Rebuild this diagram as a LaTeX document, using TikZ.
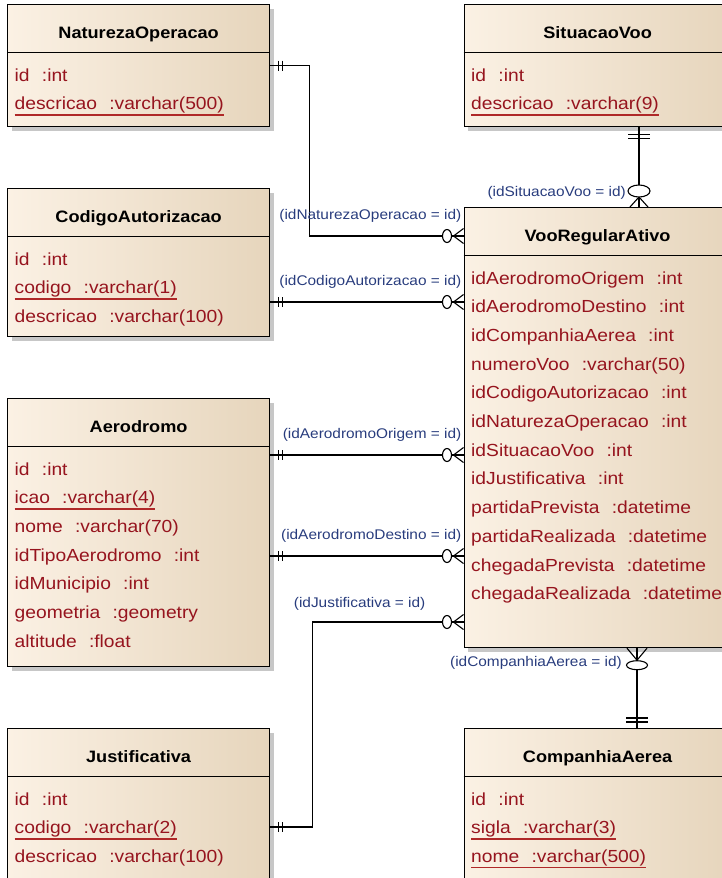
\documentclass[tikz,border=0pt]{standalone}
\usepackage{fontspec}
\setmainfont{Liberation Sans}[FakeStretch=1.1]
\usetikzlibrary{positioning, calc, shadows}
\usepackage{xcolor}
\definecolor{attrred}{RGB}{150,20,30}
\definecolor{ulred}{RGB}{175,40,40}
\definecolor{labblue}{RGB}{40,60,125}
\definecolor{boxleft}{RGB}{251,241,228}
\definecolor{boxright}{RGB}{230,213,188}
\newcommand{\tsep}{\hspace{0.7em}}
\newcommand{\pk}[1]{\setbox0\hbox{#1}\rlap{\color{ulred}\rule[-6pt]{\wd0}{1.3pt}}\box0}

\begin{document}
\begin{tikzpicture}[x=1pt, y=-1pt,
    tbl/.style={draw=black, line width=1.2pt, left color=boxleft, right color=boxright,
      drop shadow={shadow xshift=4pt, shadow yshift=-4pt, fill=black!22, opacity=1},
      anchor=north west, minimum width=262, inner sep=0},
    ttl/.style={font=\fontsize{16.5}{18}\selectfont\bfseries, anchor=base, inner sep=0},
    attr/.style={font=\fontsize{17.5}{20}\selectfont, text=attrred, anchor=base west, inner sep=0},
    rlab/.style={font=\fontsize{14}{16}\selectfont, text=labblue, inner sep=0},
    rel/.style={line width=1.1pt}]
    \useasboundingbox (0,0) rectangle (722,878);
    \clip (0,0) rectangle (722,878);
    % Tabelas da esquerda
    \node[tbl, minimum height=122] (nat) at (7,4) {};
    \node[ttl] (natT) at ($(nat.north)+(0,34.5)$) {NaturezaOperacao};
    \draw[line width=1pt] ($(nat.north west)+(0,48.5)$) -- ($(nat.north east)+(0,48.5)$);
    \foreach \a [count=\i] in {id\tsep:int, \pk{descricao\tsep:varchar(500)}}
      \node[attr] (natA\i) at ($(nat.north west)+(7.5,48.5+28.5+28.7*\i-28.7)$) {\a};

    \node[tbl, minimum height=148] (cod) at (7,188) {};
    \node[ttl] (codT) at ($(cod.north)+(0,34.5)$) {CodigoAutorizacao};
    \draw[line width=1pt] ($(cod.north west)+(0,48.5)$) -- ($(cod.north east)+(0,48.5)$);
    \foreach \a [count=\i] in {id\tsep:int, \pk{codigo\tsep:varchar(1)}, descricao\tsep:varchar(100)}
      \node[attr] (codA\i) at ($(cod.north west)+(7.5,48.5+28.5+28.7*\i-28.7)$) {\a};

    \node[tbl, minimum height=268] (aer) at (7,398) {};
    \node[ttl] (aerT) at ($(aer.north)+(0,34.5)$) {Aerodromo};
    \draw[line width=1pt] ($(aer.north west)+(0,48.5)$) -- ($(aer.north east)+(0,48.5)$);
    \foreach \a [count=\i] in {id\tsep:int, \pk{icao\tsep:varchar(4)}, nome\tsep:varchar(70),
        idTipoAerodromo\tsep:int, idMunicipio\tsep:int, geometria\tsep:geometry, altitude\tsep:float}
      \node[attr] (aerA\i) at ($(aer.north west)+(7.5,48.5+28.5+28.7*\i-28.7)$) {\a};

    \node[tbl, minimum height=152] (jus) at (7,728) {};
    \node[ttl] (jusT) at ($(jus.north)+(0,34.5)$) {Justificativa};
    \draw[line width=1pt] ($(jus.north west)+(0,48.5)$) -- ($(jus.north east)+(0,48.5)$);
    \foreach \a [count=\i] in {id\tsep:int, \pk{codigo\tsep:varchar(2)}, descricao\tsep:varchar(100)}
      \node[attr] (jusA\i) at ($(jus.north west)+(7.5,48.5+28.5+28.7*\i-28.7)$) {\a};

    % Tabelas da direita
    \node[tbl, minimum width=267, minimum height=122] (sit) at (463.5,4) {};
    \node[ttl] (sitT) at ($(sit.north)+(0,34.5)$) {SituacaoVoo};
    \draw[line width=1pt] ($(sit.north west)+(0,48.5)$) -- ($(sit.north east)+(0,48.5)$);
    \foreach \a [count=\i] in {id\tsep:int, \pk{descricao\tsep:varchar(9)}}
      \node[attr] (sitA\i) at ($(sit.north west)+(7.5,48.5+28.5+28.7*\i-28.7)$) {\a};

    \node[tbl, minimum width=267, minimum height=440] (voo) at (463.5,207) {};
    \node[ttl] (vooT) at ($(voo.north)+(0,34.5)$) {VooRegularAtivo};
    \draw[line width=1pt] ($(voo.north west)+(0,48.5)$) -- ($(voo.north east)+(0,48.5)$);
    \foreach \a [count=\i] in {idAerodromoOrigem\tsep:int, idAerodromoDestino\tsep:int,
        idCompanhiaAerea\tsep:int, numeroVoo\tsep:varchar(50), idCodigoAutorizacao\tsep:int,
        idNaturezaOperacao\tsep:int, idSituacaoVoo\tsep:int, idJustificativa\tsep:int,
        partidaPrevista\tsep:datetime, partidaRealizada\tsep:datetime,
        chegadaPrevista\tsep:datetime, chegadaRealizada\tsep:datetime}
      \node[attr] (vooA\i) at ($(voo.north west)+(7.5,48.5+28.5+28.7*\i-28.7)$) {\a};

    \node[tbl, minimum width=267, minimum height=152] (cia) at (463.5,728) {};
    \node[ttl] (ciaT) at ($(cia.north)+(0,34.5)$) {CompanhiaAerea};
    \draw[line width=1pt] ($(cia.north west)+(0,48.5)$) -- ($(cia.north east)+(0,48.5)$);
    \foreach \a [count=\i] in {id\tsep:int, \pk{sigla\tsep:varchar(3)}, \pk{nome\tsep:varchar(500)}}
      \node[attr] (ciaA\i) at ($(cia.north west)+(7.5,48.5+28.5+28.7*\i-28.7)$) {\a};

    % Pontos das ligacoes
    \coordinate (vNat) at ($(voo.north west)+(0,29)$);
    \coordinate (codR) at ($(cod.north east)+(0,114)$);
    \coordinate (vCod) at (codR -| voo.west);
    \coordinate (aerO) at ($(aer.north east)+(0,57)$);
    \coordinate (vOri) at (aerO -| voo.west);
    \coordinate (aerD) at ($(aer.north east)+(0,158)$);
    \coordinate (vDes) at (aerD -| voo.west);
    \coordinate (jusR) at ($(jus.north east)+(0,99)$);
    \coordinate (vJus) at ($(voo.north west)+(0,415)$);
    \coordinate (sitB) at ($(sit.south west)+(175.5,0)$);
    \coordinate (vSit) at (sitB |- voo.north);
    \coordinate (ciaN) at ($(cia.north west)+(173.5,0)$);
    \coordinate (vCia) at (ciaN |- voo.south);

    % Ligacoes
    \draw[rel] (nat.east) -- ++(39,0) |- (vNat);
    \draw[rel] (codR) -- (vCod);
    \draw[rel] (aerO) -- (vOri);
    \draw[rel] (aerD) -- (vDes);
    \draw[rel] (jusR) -- ++(42,0) |- (vJus);
    \draw[rel] (sitB) -- (vSit);
    \draw[rel] (vCia) -- (ciaN);

    % Cardinalidades
    \foreach \c in {vNat, vCod, vOri, vDes, vJus} {
      \draw[rel] (\c) ++(-10,0) -- ++(10,-7.5) ++(-10,7.5) -- ++(10,7.5);
      \draw[rel, fill=white] (\c) ++(-16.5,0) ellipse [x radius=4.5, y radius=6.5];
    }
    \foreach \c in {nat.east, codR, aerO, aerD, jusR}
      \draw[rel] (\c) ++(8,-5) -- ++(0,10) ++(4,-10) -- ++(0,10);
    \draw[rel] (vSit) ++(0,-10) -- ++(-9,10) ++(9,-10) -- ++(9,10);
    \draw[rel, fill=white] (vSit) ++(0,-16) ellipse [x radius=11, y radius=6];
    \draw[rel] (vCia) ++(0,12) -- ++(-10,-12) ++(10,12) -- ++(10,-12);
    \draw[rel, fill=white] (vCia) ++(0,17) ellipse [x radius=10.5, y radius=4.5];
    \draw[rel] (sitB) ++(-11,7) -- ++(22,0) ++(-22,4) -- ++(22,0);
    \draw[rel] (ciaN) ++(-11,-6) -- ++(22,0) ++(-22,-4) -- ++(22,0);

    % Rotulos das ligacoes
    \node[rlab, above left=13pt and 2pt of vNat] (lNat) {(idNaturezaOperacao = id)};
    \node[rlab, above left=13pt and 2pt of vCod] (lCod) {(idCodigoAutorizacao = id)};
    \node[rlab, above left=13pt and 2pt of vOri] (lOri) {(idAerodromoOrigem = id)};
    \node[rlab, above left=13pt and 2pt of vDes] (lDes) {(idAerodromoDestino = id)};
    \node[rlab, above left=11pt and 38pt of vJus] (lJus) {(idJustificativa = id)};
    \node[rlab, anchor=east] (lSit) at ($(vSit)+(-13,-14.5)$) {(idSituacaoVoo = id)};
    \node[rlab, anchor=east] (lCia) at ($(vCia)+(-15,14.5)$) {(idCompanhiaAerea = id)};
  \end{tikzpicture}
\end{document}
